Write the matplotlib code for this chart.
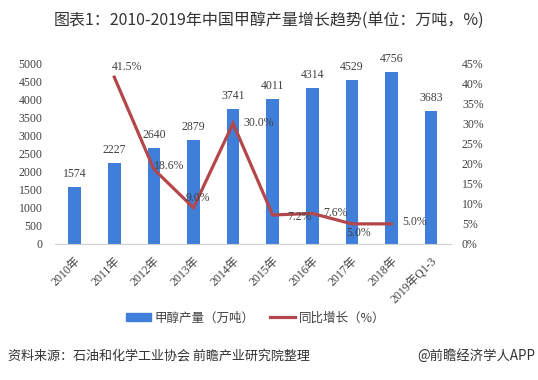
import matplotlib
matplotlib.use("Agg")
import matplotlib.pyplot as plt
import numpy as np

plt.rcParams['font.family'] = ['Noto Sans CJK SC', 'DejaVu Sans']

categories = ["2010年", "2011年", "2012年", "2013年", "2014年", "2015年",
              "2016年", "2017年", "2018年", "2019年Q1-3"]
production = [1574, 2227, 2640, 2879, 3741, 4011, 4314, 4529, 4756, 3683]
growth = [None, 41.5, 18.6, 9.0, 30.0, 7.2, 7.6, 5.0, 5.0, None]
growth_labels = ["", "41.5%", "18.6%", "9.0%", "30.0%", "7.2%", "7.6%", "5.0%", "5.0%", ""]
left_ticks = [0, 500, 1000, 1500, 2000, 2500, 3000, 3500, 4000, 4500, 5000]
right_ticks = [0, 5, 10, 15, 20, 25, 30, 35, 40, 45]

serif = ['Liberation Serif', 'Noto Sans CJK SC']
bar_color = '#3f7fda'
line_color = '#b3474b'
txt = '#404040'

fig = plt.figure(figsize=(5.38, 3.8), dpi=100)
ax = fig.add_axes([0.102, 0.358, 0.736, 0.476])
ax2 = ax.twinx()

x = np.arange(len(categories))
ax.bar(x, production, width=0.32, color=bar_color, zorder=2)
ax.set_xlim(-0.5, len(categories) - 0.5)
ax.set_ylim(0, 5000)
ax.set_yticks(left_ticks)
ax.set_yticklabels([str(t) for t in left_ticks], family=serif, fontsize=8.5, color=txt)
ax.set_xticks(x)
ax.set_xticklabels(categories, family=serif, fontsize=8.5, color=txt,
                   rotation=45, ha='right', rotation_mode='anchor')
ax.tick_params(axis='y', length=0, pad=9)
ax.tick_params(axis='x', length=0, pad=8)
for s in ['top', 'right', 'left']:
    ax.spines[s].set_visible(False)
ax.spines['bottom'].set_color('#d0d0d0')
for s in ['top', 'right', 'left', 'bottom']:
    ax2.spines[s].set_visible(False)

for xi, v in zip(x, production):
    ax.annotate(str(v), (xi, v), textcoords='offset pixels', xytext=(0, 7),
                ha='center', va='bottom', family=serif, fontsize=8.5, color=txt)

gx = [xi for xi, g in zip(x, growth) if g is not None]
gy = [g for g in growth if g is not None]
ax2.plot(gx, gy, color=line_color, lw=2.3, zorder=3, solid_joinstyle='miter')
ax2.set_ylim(0, 45)
ax2.set_yticks(right_ticks)
ax2.set_yticklabels([f"{t}%" for t in right_ticks], family=serif, fontsize=8.5, color=txt)
ax2.tick_params(axis='y', length=0, pad=8)

offsets = {1: (-2, 10, 'left'), 2: (0, 3, 'left'), 3: (-8, 10, 'left'),
           4: (10, 0, 'left'), 5: (15, -2, 'left'), 6: (11, 0, 'left'),
           7: (-6, -9, 'left'), 8: (11, 2, 'left')}
for i, (dx, dy, ha) in offsets.items():
    ax2.annotate(growth_labels[i], (x[i], growth[i]), textcoords='offset pixels',
                 xytext=(dx, dy), ha=ha, va='center', family=serif, fontsize=8.5,
                 color=txt, zorder=4)

fig.text(268.5 / 538, 1 - 20 / 380, "图表1：2010-2019年中国甲醇产量增长趋势(单位：万吨，%)",
         ha='center', va='center', fontsize=11.5, color='#333333')

from matplotlib.patches import Patch
from matplotlib.lines import Line2D
handles = [Patch(color=bar_color), Line2D([0], [0], color=line_color, lw=2.3)]
fig.legend(handles, ["甲醇产量（万吨）", "同比增长（%）"], loc='center',
           bbox_to_anchor=(0.475, 1 - 318 / 380), ncol=2, frameon=False,
           fontsize=9, handlelength=2.0, handleheight=0.6, columnspacing=1.2,
           handletextpad=0.3, labelcolor=txt)

fig.text(8 / 538, 1 - 356 / 380, "资料来源：石油和化学工业协会 前瞻产业研究院整理",
         ha='left', va='center', fontsize=9.4, color='#333333')
fig.text(535 / 538, 1 - 356 / 380, "@前瞻经济学人APP",
         ha='right', va='center', fontsize=9.6, color='#333333')

fig.savefig("out.png", dpi=100)
